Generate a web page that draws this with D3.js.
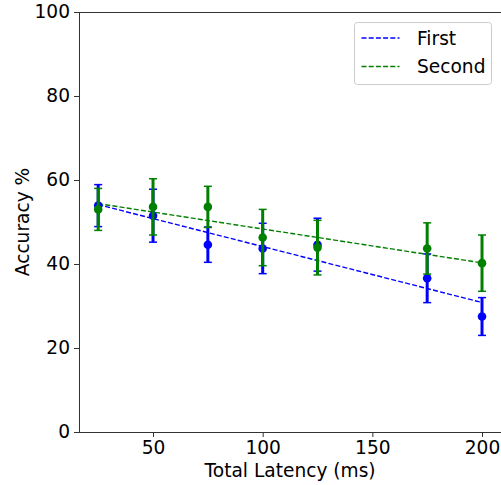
<!DOCTYPE html>
<html>
<head>
<meta charset="utf-8">
<script src="https://cdn.jsdelivr.net/npm/d3@7"></script>
<style>
  body { margin: 0; background: #fff; }
  svg { display: block; font-family: "DejaVu Sans", sans-serif; }
  svg text { font-family: "DejaVu Sans", sans-serif; font-size: 18.6px; fill: #000; }
</style>
</head>
<body>
<div id="chart"></div>
<script>

// data

var latency = [25, 50, 75, 100, 125, 175, 200];

var firstMean = [53.9, 51.5, 44.6, 43.7, 44.6, 36.6, 27.5],
    firstErr  = [5.0, 6.3, 4.2, 6.0, 6.3, 5.8, 4.5];

var secondMean = [53.0, 53.6, 53.6, 46.3, 43.9, 43.7, 40.2],
    secondErr  = [5.0, 6.7, 4.9, 6.7, 6.5, 6.1, 6.7];

var xTicks = [50, 100, 150, 200],
    yTicks = [0, 20, 40, 60, 80, 100];

var seriesNames = ["First", "Second"],
    seriesColors = ["#0000ff", "#008000"];

// layout

var width = 501,
    height = 485,
    marginLeft = 79,
    marginTop = 12,
    plotRight = 501.2,
    plotBottom = 432;

var x = d3.scaleLinear()
  .domain([16.25, 208.75])
  .range([marginLeft, plotRight]);

var y = d3.scaleLinear()
  .domain([0, 100])
  .range([plotBottom, marginTop]);

var svg = d3.select("#chart").append("svg")
  .attr("width", width)
  .attr("height", height);

// least squares fit for each series

function fit(xs, ys) {
  var mx = d3.mean(xs), my = d3.mean(ys);
  var sxy = d3.sum(xs, function(d, i) { return (d - mx) * (ys[i] - my); }),
      sxx = d3.sum(xs, function(d) { return (d - mx) * (d - mx); });
  var slope = sxy / sxx;
  var x0 = d3.min(xs), x1 = d3.max(xs);
  return [[x0, my + slope * (x0 - mx)], [x1, my + slope * (x1 - mx)]];
}

var series = [
  { name: seriesNames[0], color: seriesColors[0], mean: firstMean, err: firstErr },
  { name: seriesNames[1], color: seriesColors[1], mean: secondMean, err: secondErr }
];

var line = d3.line()
  .x(function(d) { return x(d[0]); })
  .y(function(d) { return y(d[1]); });

// fit lines

series.forEach(function(s) {
  svg.append("path")
    .attr("d", line(fit(latency, s.mean)))
    .attr("fill", "none")
    .attr("stroke", s.color)
    .attr("stroke-width", 1.4)
    .attr("stroke-dasharray", "5,2.2");
});

// error bars and points

series.forEach(function(s) {
  var g = svg.append("g");
  var rows = latency.map(function(d, i) { return { x: d, m: s.mean[i], e: s.err[i] }; });

  g.selectAll(".bar")
    .data(rows)
    .enter()
      .append("line")
        .attr("x1", function(d) { return x(d.x); })
        .attr("x2", function(d) { return x(d.x); })
        .attr("y1", function(d) { return y(d.m - d.e); })
        .attr("y2", function(d) { return y(d.m + d.e); })
        .attr("stroke", s.color)
        .attr("stroke-width", 3);

  ["lo", "hi"].forEach(function(k) {
    g.selectAll(".cap-" + k)
      .data(rows)
      .enter()
        .append("line")
          .attr("x1", function(d) { return x(d.x) - 4; })
          .attr("x2", function(d) { return x(d.x) + 4; })
          .attr("y1", function(d) { return y(k == "lo" ? d.m - d.e : d.m + d.e); })
          .attr("y2", function(d) { return y(k == "lo" ? d.m - d.e : d.m + d.e); })
          .attr("stroke", s.color)
          .attr("stroke-width", 1.5);
  });

  g.selectAll("circle")
    .data(rows)
    .enter()
      .append("circle")
        .attr("cx", function(d) { return x(d.x); })
        .attr("cy", function(d) { return y(d.m); })
        .attr("r", 4.3)
        .attr("fill", s.color);
});

// axes

var xAxis = svg.append("g")
  .attr("transform", "translate(0," + plotBottom + ")")
  .call(d3.axisBottom(x).tickValues(xTicks).tickSize(5).tickPadding(4).tickFormat(d3.format("d")));

var yAxis = svg.append("g")
  .attr("transform", "translate(" + marginLeft + ",0)")
  .call(d3.axisLeft(y).tickValues(yTicks).tickSize(5).tickPadding(4).tickFormat(d3.format("d")));

[xAxis, yAxis].forEach(function(a) {
  a.attr("font-family", null).attr("font-size", null);
  a.select(".domain").remove();
  a.selectAll(".tick line").attr("stroke", "#333").attr("stroke-width", 1);
});

// spines (left, bottom, top)

svg.append("path")
  .attr("d", "M" + plotRight + "," + marginTop + "H" + marginLeft + "V" + plotBottom + "H" + plotRight)
  .attr("fill", "none")
  .attr("stroke", "#333")
  .attr("stroke-width", 1)
  .attr("shape-rendering", "crispEdges");

// axis labels

svg.append("text")
  .attr("x", (marginLeft + plotRight) / 2)
  .attr("y", 477)
  .attr("text-anchor", "middle")
  .text("Total Latency (ms)");

svg.append("text")
  .attr("transform", "translate(29," + (marginTop + plotBottom) / 2 + ") rotate(-90)")
  .attr("text-anchor", "middle")
  .text("Accuracy %");

// legend

var legend = svg.append("g")
  .attr("transform", "translate(354.5,22.5)");

legend.append("rect")
  .attr("width", 137)
  .attr("height", 62)
  .attr("rx", 3)
  .attr("fill", "#fff")
  .attr("fill-opacity", 0.8)
  .attr("stroke", "#cccccc");

series.forEach(function(s, i) {
  var ly = 15.5 + i * 28.5;
  legend.append("line")
    .attr("x1", 7)
    .attr("x2", 45)
    .attr("y1", ly)
    .attr("y2", ly)
    .attr("stroke", s.color)
    .attr("stroke-width", 1.4)
    .attr("stroke-dasharray", "5,2.2");
  legend.append("text")
    .attr("x", 62.5)
    .attr("y", ly + 6.8)
    .text(s.name);
});

</script>
</body>
</html>
